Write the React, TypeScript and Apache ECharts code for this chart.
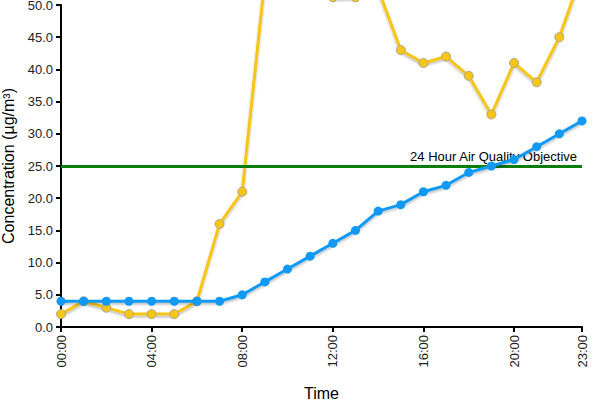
import React, { useEffect, useRef } from "react";
import * as echarts from "echarts";

const hours: string[] = [
  "00:00", "01:00", "02:00", "03:00", "04:00", "05:00", "06:00", "07:00",
  "08:00", "09:00", "10:00", "11:00", "12:00", "13:00", "14:00", "15:00",
  "16:00", "17:00", "18:00", "19:00", "20:00", "21:00", "22:00", "23:00",
];
const yellowSeries: number[] = [2, 4, 3, 2, 2, 2, 4, 16, 21, 54, 58, 56, 51.2, 51.2, 52.5, 43, 41, 42, 39, 33, 41, 38, 45, 55];
const blueSeries: number[] = [4, 4, 4, 4, 4, 4, 4, 4, 5, 7, 9, 11, 13, 15, 18, 19, 21, 22, 24, 25, 26, 28, 30, 32];
const objective = 25;
const objectiveLabel = "24 Hour Air Quality Objective";
const yTicks = { min: 0, max: 50, interval: 5 };

const showIdx = (i: number) => i % 4 === 0 || i === hours.length - 1;

export default function App() {
  const ref = useRef<HTMLDivElement>(null);
  useEffect(() => {
    if (!ref.current) return;
    const chart = echarts.init(ref.current, undefined, { renderer: "svg" });
    const font = "Arial, 'Liberation Sans', sans-serif";
    chart.setOption({
      animation: false,
      textStyle: { fontFamily: font },
      grid: { left: 61, right: 18, top: 5, bottom: 73, outerBoundsMode: "none", containLabel: false },
      xAxis: {
        type: "category",
        data: hours,
        boundaryGap: false,
        name: "Time",
        nameLocation: "middle",
        nameGap: 58,
        nameTextStyle: { color: "#000", fontSize: 16, fontFamily: font },
        axisLine: { lineStyle: { color: "#000", width: 2 } },
        axisTick: { interval: (i: number) => showIdx(i), length: 5, lineStyle: { color: "#000", width: 2 } },
        axisLabel: {
          interval: (i: number) => showIdx(i),
          rotate: 90,
          color: "#222",
          fontSize: 13,
          margin: 8,
          fontFamily: font,
        },
        splitLine: { show: false },
      },
      yAxis: {
        type: "value",
        min: yTicks.min,
        max: yTicks.max,
        interval: yTicks.interval,
        name: "Concentration (µg/m³)",
        nameLocation: "middle",
        nameGap: 44,
        nameTextStyle: { color: "#000", fontSize: 16, fontFamily: font },
        axisLine: { show: true, lineStyle: { color: "#000", width: 2 } },
        axisTick: { show: true, length: 5, lineStyle: { color: "#000", width: 2 } },
        axisLabel: {
          formatter: (v: number) => v.toFixed(1),
          color: "#222",
          fontSize: 13,
          margin: 8,
          fontFamily: font,
        },
        splitLine: { show: false },
      },
      series: [
        {
          type: "line",
          data: yellowSeries,
          clip: false,
          symbol: "circle",
          symbolSize: 9,
          z: 2,
          itemStyle: { color: "#f7c515", borderColor: "#a9a59a", borderWidth: 1 },
          lineStyle: {
            color: "#f7c515",
            width: 3,
            shadowColor: "rgba(0,0,0,0.25)",
            shadowBlur: 2,
            shadowOffsetY: 2,
          },
        },
        {
          type: "line",
          data: blueSeries,
          clip: false,
          symbol: "circle",
          symbolSize: 9,
          z: 4,
          itemStyle: { color: "#1199f5" },
          lineStyle: {
            color: "#1199f5",
            width: 3,
            shadowColor: "rgba(0,0,0,0.25)",
            shadowBlur: 2,
            shadowOffsetY: 2,
          },
          markLine: {
            silent: true,
            symbol: ["none", "none"],
            z: 3,
            data: [{ yAxis: objective }],
            lineStyle: {
              color: "#0a7d0a",
              width: 3,
              type: "solid",
              opacity: 1,
            },
            label: {
              show: true,
              position: "insideEndTop",
              formatter: objectiveLabel,
              color: "#000",
              fontSize: 13,
              fontFamily: font,
              distance: [5, 3],
            },
          },
        },
      ],
    });
    return () => chart.dispose();
  }, []);
  return <div ref={ref} style={{ width: 600, height: 400, position: "absolute", left: 0, top: 0 }} />;
}
